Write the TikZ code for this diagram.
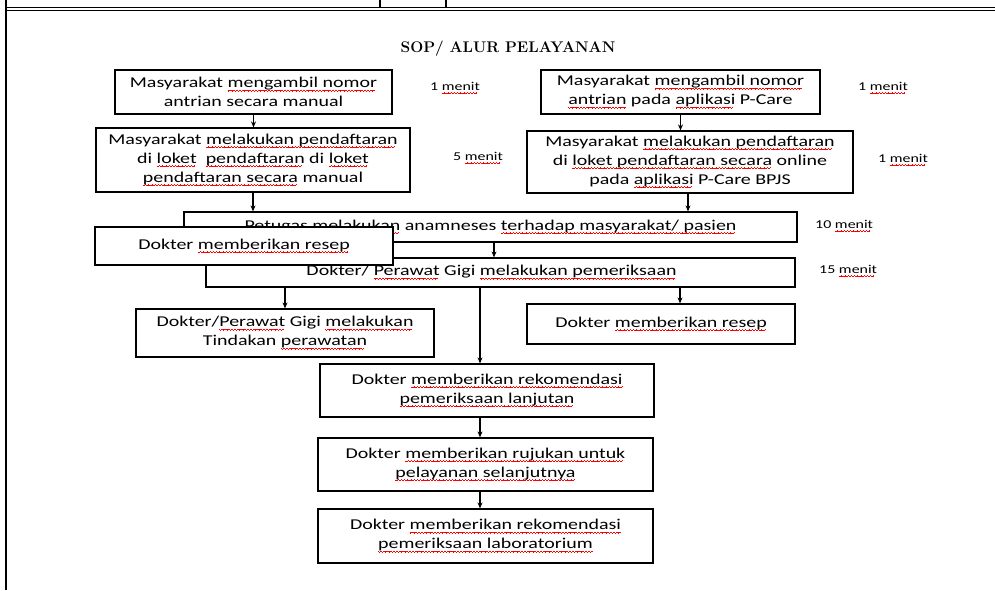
\documentclass[tikz,border=0pt]{standalone}
\usepackage{fontspec}
\usetikzlibrary{arrows.meta}
\newfontfamily\boxfont[FakeStretch=1.33]{Carlito}
\newsavebox\wvbox
\newcommand\wvseg{\hbox{\vrule width0.8pt height-2.6pt depth3.3pt\vrule width0.8pt height-3.2pt depth3.9pt\vrule width0.8pt height-2.6pt depth3.3pt\vrule width0.8pt height-2.0pt depth2.7pt}}
\newcommand\wv[1]{\sbox\wvbox{#1}\rlap{\hbox to \wd\wvbox{\color{red}\leaders\wvseg\hfill}}#1}
\tikzset{
  box/.style={draw, line width=1.2pt, fill=white, inner sep=0pt, align=center,
    font=\boxfont\fontsize{15}{19}\selectfont},
  mn/.style={anchor=west, inner sep=0pt, font=\boxfont\fontsize{12}{14}\selectfont},
  arr/.style={line width=1.1pt, -{Stealth[length=6pt,width=5pt]}},
  ln/.style={line width=1.1pt}
}
\begin{document}
\begin{tikzpicture}[x=1pt,y=-1pt]
\useasboundingbox (0,0) rectangle (995,590);
% frame
\draw[ln] (6,0) -- (6,590);
\draw[line width=0.8pt] (6,7) -- (995,7);
\draw[line width=0.8pt] (6,10) -- (995,10);
\draw[ln] (380,0) -- (380,7);
\draw[ln] (446,0) -- (446,7);
% title
\node[font=\bfseries\fontsize{15.4}{18}\selectfont, inner sep=0pt] (title) at (508,49) {SOP/ ALUR PELAYANAN};
% boxes
\node[box, minimum width=277, minimum height=44] (b1) at (253.5,92)
  {Masyarakat \wv{mengambil nomor}\\antrian secara manual};
\node[box, minimum width=314, minimum height=64] (b2) at (253,160)
  {Masyarakat \wv{melakukan pendaftaran}\\di \wv{loket}\ \ \wv{pendaftaran} di \wv{loket}\\\wv{pendaftaran secara} manual};
\node[box, minimum width=279, minimum height=44] (b1r) at (680.5,92)
  {Masyarakat \wv{mengambil nomor}\\\wv{antrian} pada \wv{aplikasi} P-Care};
\node[box, minimum width=326, minimum height=62] (b2r) at (690,162)
  {Masyarakat \wv{melakukan pendaftaran}\\di \wv{loket pendaftaran secara} online\\pada \wv{aplikasi} P-Care BPJS};
\node[box, minimum width=613, minimum height=30] (anam) at (490.5,227)
  {Petugas \wv{melakukan} anamneses \wv{terhadap masyarakat/ pasien}};
\node[box, minimum width=589, minimum height=29] (exam) at (500.5,272.5)
  {\hspace*{-18pt}Dokter/ \wv{Perawat} Gigi \wv{melakukan pemeriksaan}};
\node[box, minimum width=298, minimum height=48] (tind) at (285,333)
  {Dokter/\wv{Perawat} Gigi \wv{melakukan}\\Tindakan \wv{perawatan}};
\node[box, minimum width=268, minimum height=40] (resr) at (661,324)
  {Dokter \wv{memberikan resep}};
\node[box, minimum width=334, minimum height=53] (rekom) at (487,390.5)
  {Dokter \wv{memberikan rekomendasi}\\\wv{pemeriksaan lanjutan}};
\node[box, minimum width=335, minimum height=53] (ruj) at (485.5,464.5)
  {Dokter \wv{memberikan rujukan untuk}\\\wv{pelayanan selanjutnya}};
\node[box, minimum width=335, minimum height=54] (lab) at (485.5,536)
  {Dokter \wv{memberikan rekomendasi}\\\wv{pemeriksaan laboratorium}};
% time labels
\node[mn] (t1) at (430,88) {1 \wv{menit}};
\node[mn] (t2) at (453,158) {5 \wv{menit}};
\node[mn] (t3) at (858,88) {1 \wv{menit}};
\node[mn] (t4) at (878,160) {1 \wv{menit}};
\node[mn] (t5) at (815,226) {10 \wv{menit}};
\node[mn] (t6) at (819,271) {15 \wv{menit}};
% arrows
\draw[arr] (b1.south) -- (b1.south |- b2.north);
\draw[arr] (b1r.south) -- (b1r.south |- b2r.north);
\draw[arr] (b2.south) -- (b2.south |- anam.north);
\draw[arr] ([xshift=-2pt]b2r.south) -- ([xshift=-2pt]b2r.south |- anam.north);
\draw[arr] ([xshift=3.5pt]anam.south) -- ([xshift=3.5pt]anam.south |- exam.north);
\draw[arr] (tind.north |- exam.south) -- (tind.north);
\draw[arr] ([xshift=19pt]resr.north |- exam.south) -- ([xshift=19pt]resr.north);
\draw[arr] ([xshift=-7pt]rekom.north |- exam.south) -- ([xshift=-7pt]rekom.north);
\draw[arr] ([xshift=-5.5pt]ruj.north |- rekom.south) -- ([xshift=-5.5pt]ruj.north);
\draw[arr] ([xshift=-5.5pt]lab.north |- ruj.south) -- ([xshift=-5.5pt]lab.north);
% overlapping box drawn last
\node[box, minimum width=298, minimum height=38] (ovl) at (244,246)
  {Dokter \wv{memberikan resep}};
\end{tikzpicture}
\end{document}
